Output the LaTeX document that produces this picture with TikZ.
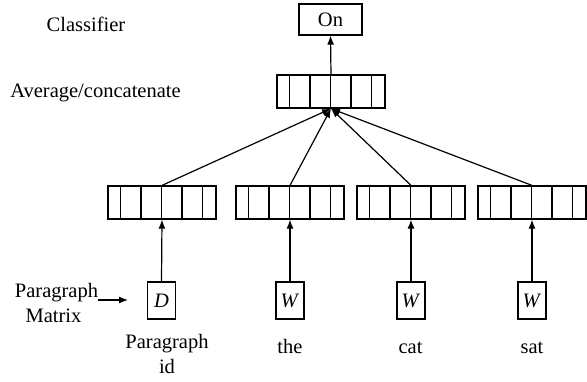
\documentclass[tikz,border=0pt]{standalone}
\usepackage{fontspec}
\setmainfont{Liberation Serif}
\usetikzlibrary{arrows.meta}
\begin{document}
\begin{tikzpicture}[x=1pt,y=-1pt,
  every node/.style={font=\fontsize{20.5}{24}\selectfont},
  vecbox/.style={draw,line width=1.2pt,minimum width=108pt,minimum height=33pt,inner sep=0pt},
  smallbox/.style={draw,line width=1.2pt,minimum width=28pt,minimum height=37pt,inner sep=0pt},
  outbox/.style={draw,line width=1.2pt,minimum width=63pt,minimum height=31pt,inner sep=0pt},
  lbl/.style={anchor=base,inner sep=0pt},
  conn/.style={line width=1.2pt,-{Latex[length=9pt,width=7pt]}}]
\useasboundingbox (0,0) rectangle (587,381);
% output
\node[outbox] (on) at (330.5,19.5) {On};
\node[lbl] (clf) at (86,31) {Classifier};
% average box
\node[vecbox] (avg) at (331,91.5) {};
\node[lbl] (avglbl) at (95.5,97) {Average/concatenate};
% lower vector boxes
\node[vecbox] (v1) at (162,202.5) {};
\node[vecbox] (v2) at (290,202.5) {};
\node[vecbox] (v3) at (411,202.5) {};
\node[vecbox] (v4) at (532,202.5) {};
\foreach \b in {avg,v1,v2,v3,v4}{
  \foreach \d in {13,33.5,54,74.5,95}{
    \draw[line width=1.2pt] ([xshift=\d pt]\b.north west) -- ([xshift=\d pt]\b.south west);
  }
}
% input boxes
\node[smallbox] (d) at (161.5,300.5) {\textit{D}};
\node[smallbox] (w1) at (290,300.5) {\textit{W}};
\node[smallbox] (w2) at (411,300.5) {\textit{W}};
\node[smallbox] (w3) at (532,300.5) {\textit{W}};
% labels
\node[lbl] (pid1) at (167,348) {Paragraph};
\node[lbl] (pid2) at (167,373) {id};
\node[lbl] (the) at (290,353) {the};
\node[lbl] (cat) at (410.5,353) {cat};
\node[lbl] (sat) at (532,353) {sat};
\node[lbl] (pm1) at (56.5,297) {Paragraph};
\node[lbl] (pm2) at (53.5,322) {Matrix};
\coordinate (pmA) at (98,300);
\coordinate (pmB) at (128,300);
% connectors
\draw[conn] (pmA) -- (pmB);
\draw[conn] (d.north) -- (v1.south);
\draw[conn] (w1.north) -- (v2.south);
\draw[conn] (w2.north) -- (v3.south);
\draw[conn] (w3.north) -- (v4.south);
\draw[conn] (v1.north) -- (avg.south);
\draw[conn] (v2.north) -- (avg.south);
\draw[conn] (v3.north) -- (avg.south);
\draw[conn] (v4.north) -- (avg.south);
\draw[conn] (avg.north) -- (on.south);
\end{tikzpicture}
\end{document}
